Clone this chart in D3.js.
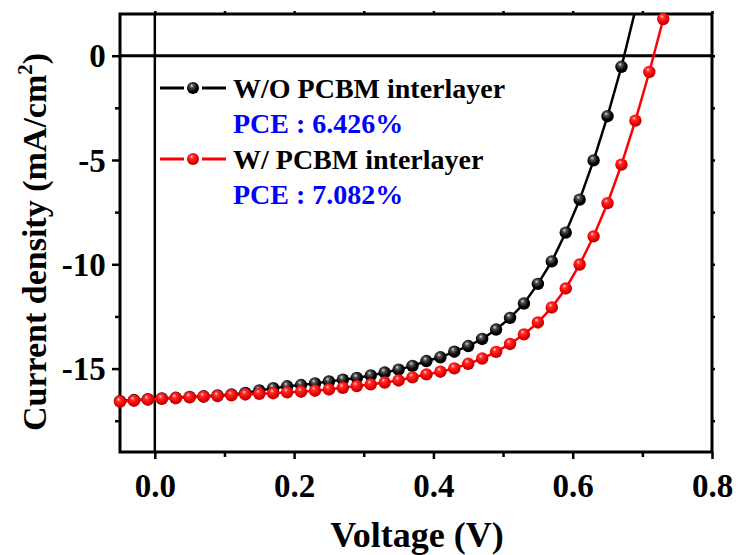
<!DOCTYPE html>
<html>
<head>
<meta charset="utf-8">
<script src="https://cdn.jsdelivr.net/npm/d3@7"></script>
<style>
  body { margin: 0; background: #fff; }
  text { font-family: "Liberation Serif", "Times New Roman", serif; font-weight: bold; }
</style>
</head>
<body>
<svg width="739" height="555"></svg>
<script>
// J-V curves
var voltage = [-0.05, -0.03, -0.01, 0.01, 0.03, 0.05, 0.07, 0.09, 0.11, 0.13, 0.15, 0.17, 0.19,
  0.21, 0.23, 0.25, 0.27, 0.29, 0.31, 0.33, 0.35, 0.37, 0.39, 0.41, 0.43, 0.45, 0.47, 0.49,
  0.51, 0.53, 0.55, 0.57, 0.59, 0.61, 0.63, 0.65, 0.67, 0.69, 0.71, 0.73];

var jWithout = [-16.56, -16.51, -16.47, -16.43, -16.40, -16.36, -16.33, -16.29, -16.24, -16.17,
  -16.05, -15.94, -15.85, -15.79, -15.71, -15.62, -15.53, -15.45, -15.33, -15.19, -15.05,
  -14.87, -14.64, -14.46, -14.19, -13.92, -13.58, -13.13, -12.57, -11.88, -10.94, -9.86,
  -8.48, -6.90, -5.02, -2.90, -0.53, 2.2];

var jWith = [-16.59, -16.54, -16.49, -16.45, -16.42, -16.38, -16.35, -16.32, -16.28, -16.24,
  -16.21, -16.18, -16.14, -16.11, -16.06, -16.00, -15.92, -15.84, -15.76, -15.67, -15.57,
  -15.42, -15.28, -15.15, -14.99, -14.77, -14.52, -14.20, -13.82, -13.36, -12.79, -12.07,
  -11.16, -10.01, -8.66, -7.07, -5.22, -3.11, -0.78, 1.76];

var seriesNames = ["W/O PCBM interlayer", "W/ PCBM interlayer"];
var pceLabels = ["PCE : 6.426%", "PCE : 7.082%"];
var xMajor = [0.0, 0.2, 0.4, 0.6, 0.8];
var xMinor = [0.1, 0.3, 0.5, 0.7];
var yMajor = [0, -5, -10, -15];
var yMinor = [-2.5, -7.5, -12.5, -17.5];

var svg = d3.select("svg"),
    pl = 120, pr = 712, pt = 14, pb = 452;

var x = d3.scaleLinear().domain([-0.05, 0.8]).range([pl, pr]);
var y = d3.scaleLinear().domain([-19, 2]).range([pb, pt]);

var defs = svg.append("defs");
defs.append("clipPath").attr("id", "plot")
  .append("rect").attr("x", pl).attr("y", pt).attr("width", pr - pl).attr("height", pb - pt);

function ball(id, stops) {
  var g = defs.append("radialGradient").attr("id", id)
      .attr("cx", "45%").attr("cy", "40%").attr("r", "60%")
      .attr("fx", "38%").attr("fy", "30%");
  stops.forEach(function(s) {
    g.append("stop").attr("offset", s[0]).attr("stop-color", s[1]);
  });
}
ball("ballBlack", [["0%", "#e0e0e0"], ["25%", "#555"], ["70%", "#000"], ["100%", "#000"]]);
ball("ballRed", [["0%", "#ffe0e0"], ["25%", "#ff3030"], ["70%", "#f00000"], ["100%", "#b00000"]]);

var series = [
  { values: jWithout, color: "#000", fill: "url(#ballBlack)" },
  { values: jWith, color: "#f00", fill: "url(#ballRed)" }
];

// zero lines
svg.append("line").attr("x1", pl).attr("x2", pr).attr("y1", y(0)).attr("y2", y(0))
  .attr("stroke", "#000").attr("stroke-width", 3);
svg.append("line").attr("x1", x(0)).attr("x2", x(0)).attr("y1", pt).attr("y2", pb)
  .attr("stroke", "#000").attr("stroke-width", 2.5);

// axes
var xAxis = svg.append("g").attr("transform", "translate(0," + pb + ")")
  .call(d3.axisBottom(x).tickValues(xMajor).tickSize(7).tickFormat(d3.format(".1f")));
svg.append("g").attr("transform", "translate(0," + pb + ")")
  .call(d3.axisBottom(x).tickValues(xMinor).tickSize(5).tickFormat(""));
var yAxis = svg.append("g").attr("transform", "translate(" + pl + ",0)")
  .call(d3.axisLeft(y).tickValues(yMajor).tickSize(8).tickFormat(function(d) { return String(d); }));
svg.append("g").attr("transform", "translate(" + pl + ",0)")
  .call(d3.axisLeft(y).tickValues(yMinor).tickSize(5).tickFormat(""));
svg.append("g").attr("transform", "translate(0," + pt + ")")
  .call(d3.axisTop(x).tickValues(xMajor.concat(xMinor)).tickSize(3).tickFormat(""));
svg.append("g").attr("transform", "translate(" + pr + ",0)")
  .call(d3.axisRight(y).tickValues(yMajor.concat(yMinor)).tickSize(3).tickFormat(""));

svg.selectAll(".domain").remove();
svg.selectAll(".tick line").attr("stroke", "#000").attr("stroke-width", 2.5);
xAxis.selectAll(".tick text").attr("font-size", 33).attr("fill", "#000")
  .attr("font-family", "Liberation Serif").attr("dy", "1.05em");
yAxis.selectAll(".tick text").attr("font-size", 33).attr("fill", "#000")
  .attr("font-family", "Liberation Serif").attr("dx", "-0.1em").attr("dy", "0.34em");

svg.append("rect").attr("x", pl).attr("y", pt).attr("width", pr - pl).attr("height", pb - pt)
  .attr("fill", "none").attr("stroke", "#000").attr("stroke-width", 3);

// curves
var line = d3.line().x(function(d) { return x(d[0]); }).y(function(d) { return y(d[1]); });

series.forEach(function(s) {
  var pts = s.values.map(function(v, i) { return [voltage[i], v]; });
  svg.append("path").datum(pts)
    .attr("clip-path", "url(#plot)")
    .attr("d", line).attr("fill", "none")
    .attr("stroke", s.color).attr("stroke-width", 2.5);
  svg.append("g").selectAll("circle")
    .data(pts.filter(function(d) { return d[1] <= 2; }))
    .enter().append("circle")
      .attr("cx", function(d) { return x(d[0]); })
      .attr("cy", function(d) { return y(d[1]); })
      .attr("r", 6.2)
      .attr("fill", s.fill);
});

// legend
var legendRows = [88, 159];
series.forEach(function(s, i) {
  var ly = legendRows[i];
  var g = svg.append("g");
  g.append("line").attr("x1", 160).attr("x2", 184).attr("y1", ly).attr("y2", ly)
    .attr("stroke", s.color).attr("stroke-width", 3);
  g.append("line").attr("x1", 202).attr("x2", 226).attr("y1", ly).attr("y2", ly)
    .attr("stroke", s.color).attr("stroke-width", 3);
  g.append("circle").attr("cx", 193).attr("cy", ly).attr("r", 6).attr("fill", s.fill);
  g.append("text").attr("x", 233).attr("y", ly + 10).attr("font-size", 28).attr("fill", "#000")
    .text(seriesNames[i]);
  g.append("text").attr("x", 233).attr("y", ly + 45).attr("font-size", 28).attr("fill", "#0000ff")
    .text(pceLabels[i]);
});

// axis titles
svg.append("text").attr("x", 417).attr("y", 547)
  .attr("text-anchor", "middle").attr("font-size", 36).attr("fill", "#000")
  .text("Voltage (V)");

var yt = svg.append("text")
  .attr("transform", "translate(46,242) rotate(-90)")
  .attr("text-anchor", "middle").attr("font-size", 34).attr("fill", "#000");
yt.append("tspan").text("Current density (mA/cm");
yt.append("tspan").attr("font-size", 21).attr("dy", -14).text("2");
yt.append("tspan").attr("dy", 14).text(")");
</script>
</body>
</html>
